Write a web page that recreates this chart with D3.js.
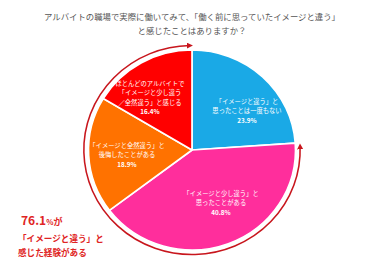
<!DOCTYPE html>
<html><head><meta charset="utf-8">
<script src="https://cdn.jsdelivr.net/npm/d3@7"></script>
<style>html,body{margin:0;padding:0;background:#fff;}svg{display:block;font-family:"Noto Sans CJK JP","Noto Sans",sans-serif;}</style>
</head><body>
<svg id="c" width="384" height="275"></svg>
<script>
const titleLines = ["アルバイトの職場で実際に働いてみて、「働く前に思っていたイメージと違う」", "と感じたことはありますか？"];
const categories = ["never", "slightly", "totally", "mostly"];
const values = [23.9, 40.8, 18.9, 16.4];
const labelLines = [
  ["「イメージと違う」と", "思ったことは一度もない"],
  ["「イメージと少し違う」と", "思ったことがある"],
  ["「イメージと全然違う」と", "後悔したことがある"],
  ["ほとんどのアルバイトで", "「イメージと少し違う", "／全然違う」と感じる"]
];
const calloutValue = "76.1";
const calloutLines = ["「イメージと違う」と", "感じた経験がある"];

const colors = ["#1AA9E6", "#FF2E9C", "#FF7200", "#FF0000"];
const labelPos = [[247, 104], [221, 196], [127, 148], [150, 86]];

const svg = d3.select("#c");
const cx = 192, cy = 150, r = 100, sx = 1.035;

// title
svg.append("g").selectAll("text").data(titleLines).join("text")
  .attr("x", 192).attr("y", (d, i) => 19.5 + i * 14)
  .attr("text-anchor", "middle").attr("font-size", 8.4).attr("fill", "#555")
  .text(d => d);

const pie = d3.pie().sort(null).value(d => d)(values);
const arc = d3.arc().innerRadius(0).outerRadius(r);
const g = svg.append("g").attr("transform", `translate(${cx},${cy}) scale(${sx},1)`);
g.selectAll("path.s").data(pie).join("path").attr("class", "s")
  .attr("d", arc).attr("fill", (d, i) => colors[i])
  .attr("stroke", "#fff").attr("stroke-width", 1.6).attr("stroke-linejoin", "round");

// arrow arc around the 76.1% share
const defs = svg.append("defs");
defs.append("marker").attr("id", "ah").attr("viewBox", "0 0 10 10")
  .attr("refX", 5).attr("refY", 5).attr("markerWidth", 4).attr("markerHeight", 4)
  .attr("orient", "auto-start-reverse")
  .append("path").attr("d", "M0,0 L10,5 L0,10 Z").attr("fill", "#C8161D");
const startA = pie[1].startAngle + 0.035, endA = 2 * Math.PI - 0.02;
const R = 104.5;
const p = d3.path();
p.moveTo(R * Math.sin(startA), -R * Math.cos(startA));
p.arc(0, 0, R, startA - Math.PI / 2, endA - Math.PI / 2, false);
g.append("path").attr("d", p.toString()).attr("fill", "none")
  .attr("stroke", "#C8161D").attr("stroke-width", 1.5)
  .attr("marker-start", "url(#ah)").attr("marker-end", "url(#ah)");

// slice labels
const lg = svg.append("g");
pie.forEach((d, i) => {
  const [x, y] = labelPos[i];
  const lines = labelLines[i].concat([d.data.toFixed(1) + "%"]);
  lg.append("g").selectAll("text").data(lines).join("text")
    .attr("x", x).attr("y", (t, j) => y + j * 9.3)
    .attr("text-anchor", "middle").attr("font-size", 6.3).attr("fill", "#fff")
    .attr("font-weight", (t, j) => j === lines.length - 1 ? "bold" : "normal")
    .text(t => t);
});

// callout
const cg = svg.append("g").attr("fill", "#E02424").attr("font-weight", "bold");
const t1 = cg.append("text").attr("x", 21).attr("y", 225);
t1.append("tspan").attr("font-size", 12).text(calloutValue);
t1.append("tspan").attr("font-size", 7.5).text("%");
t1.append("tspan").attr("font-size", 9).text("が");
cg.selectAll("text.l").data(calloutLines).join("text").attr("class", "l")
  .attr("x", 18).attr("y", (d, i) => 241.5 + i * 14.5)
  .attr("font-size", 8.6).text(d => d);
</script>
</body></html>
